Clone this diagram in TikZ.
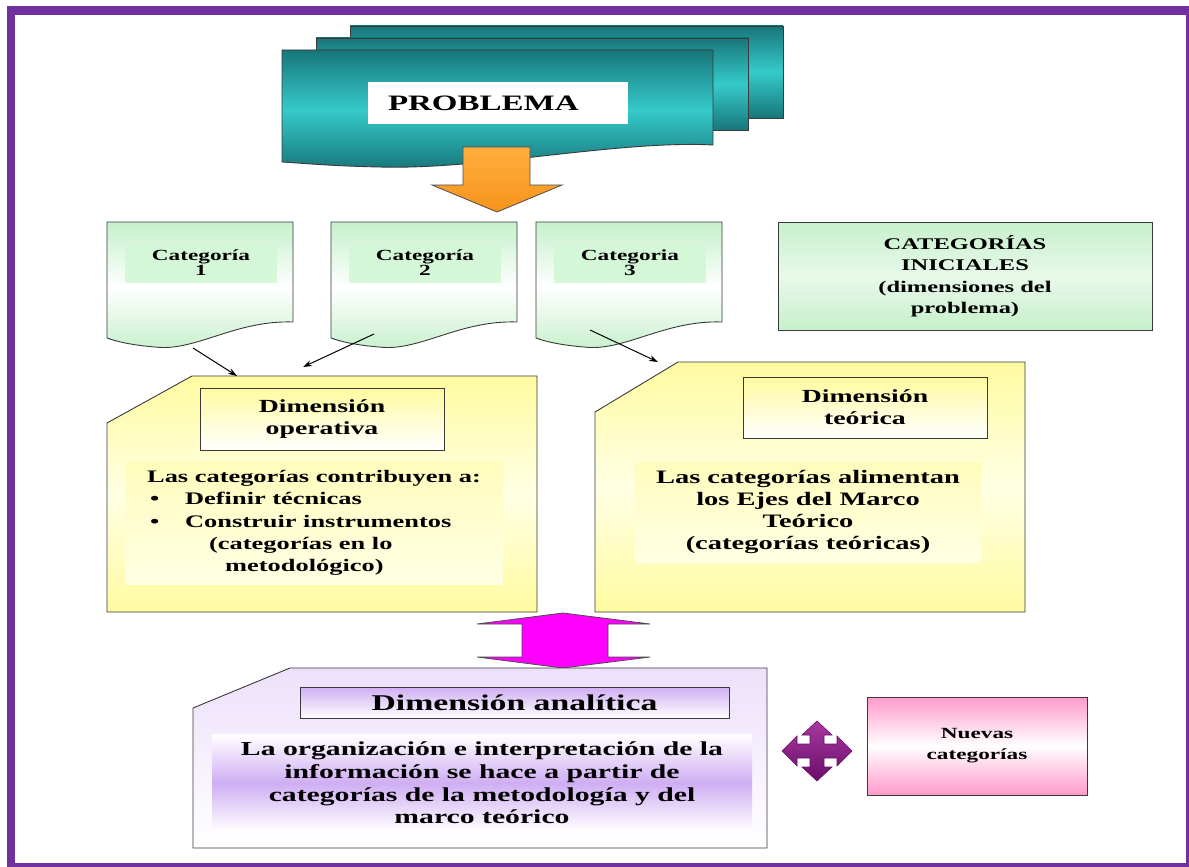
\documentclass[tikz,border=0pt]{standalone}
\usepackage{fontspec}
\setmainfont{Liberation Serif}[FakeStretch=1.5]
\usepackage{tikz}
\usetikzlibrary{arrows.meta}
\definecolor{framepurple}{HTML}{7030A0}
\definecolor{tealdark}{HTML}{17767A}
\definecolor{teallight}{HTML}{36CACA}
\definecolor{arroworange}{HTML}{F7931E}
\definecolor{arroworangelight}{HTML}{FFAE3C}
\definecolor{catgreen}{HTML}{C6F0CB}
\definecolor{catband}{HTML}{D4F7D8}
\definecolor{opyellow}{HTML}{FFFBA0}
\definecolor{opyellowlight}{HTML}{FFFFE4}
\definecolor{anapurple}{HTML}{CFAEF3}
\definecolor{anapurplelight}{HTML}{EDE0FB}
\definecolor{pinkarrow}{HTML}{FF00FF}
\definecolor{crosspurple}{HTML}{6A0E6A}
\definecolor{crosspurplelight}{HTML}{A7399F}
\definecolor{nuevaspink}{HTML}{FF9ACB}
\definecolor{outlinegray}{HTML}{3A3A3A}
\newcommand{\fsz}[2]{\fontsize{#1}{#2}\selectfont}

\begin{document}
\begin{tikzpicture}[x=1pt, y=-1pt, font=\bfseries,
    outline/.style={draw=outlinegray, line width=0.9pt},
    tealdoc/.style={outline, top color=tealdark, bottom color=tealdark, middle color=teallight},
    catdoc/.style={outline, top color=catgreen, bottom color=catgreen, middle color=white},
    catlabel/.style={fill=catband, minimum width=152, minimum height=40, align=center, inner sep=0pt, font=\bfseries\fsz{15.5}{15}},
    dimshape/.style={outline, top color=opyellow, bottom color=opyellow, middle color=opyellowlight},
    dimtitle/.style={outline, top color=opyellow, bottom color=white, minimum width=244, minimum height=62, align=center, inner sep=0pt, font=\bfseries\fsz{18.5}{22}},
    dimbody/.style={top color=opyellow!70, bottom color=opyellowlight, inner sep=0pt},
    thinarrow/.style={-{Stealth[length=9pt,width=6pt]}, line width=1pt, black},
    blockarrow/.style={draw=black!70, line width=0.8pt}
]
    \useasboundingbox (0,0) rectangle (1189,867);

    % Frame
    \fill[framepurple] (7,6) rectangle (1189,867);
    \fill[white] (15,15) rectangle (1186,863);

    % === Problema ===
    \path[tealdoc] (350,26) rectangle (783,118);
    \path[tealdoc] (316,38) rectangle (748,130);
    \path[tealdoc] (282,50) -- (713,50) -- (713,145)
        .. controls (620,140) and (480,170) .. (380,167)
        .. controls (330,166) and (300,163) .. (282,162) -- cycle;
    \node[fill=white, minimum width=260, minimum height=42, inner sep=0pt, font=\bfseries\fsz{22}{24}] (problema) at (498,103) {\makebox[220pt][l]{PROBLEMA}};

    % orange arrow
    \path[blockarrow, top color=arroworangelight, bottom color=arroworange]
        (463,147) -- (530,147) -- (530,185) -- (562,185) -- (497,212) -- (432,185) -- (463,185) -- cycle;

    % === Categorias ===
    \foreach \dx/\lbl/\num/\nm in {0/Categoría/1/catA, 224/Categoría/2/catB, 429/Categoria/3/catC} {
        \path[catdoc, shift={(\dx,0)}] (107,222) -- (293,222) -- (293,322)
            .. controls (235,320) and (195,352) .. (155,347)
            .. controls (130,345) and (115,341) .. (107,338) -- cycle;
        \node[catlabel] (\nm) at (\dx+201,263) {\lbl\\\num};
    }

    \node[outline, top color=catgreen, bottom color=catgreen, middle color=white!60!catgreen,
        minimum width=374, minimum height=108, align=center, font=\bfseries\fsz{16.3}{21.5}] (iniciales) at (965,276)
        {CATEGORÍAS\\INICIALES\\(dimensiones del\\problema)};

    % === Dimension operativa ===
    \path[dimshape] (107,423) -- (192,376) -- (537,376) -- (537,612) -- (107,612) -- cycle;
    \node[dimtitle] (opTitle) at (322,419) {Dimensión\\operativa};
    \node[dimbody, minimum width=378, minimum height=123, align=left, font=\bfseries\fsz{17.6}{22.3}] (opBody) at (314,523)
        {Las categorías contribuyen a:\\
         \makebox[38pt][l]{\hspace*{3pt}\textbullet}Definir técnicas\\
         \makebox[38pt][l]{\hspace*{3pt}\textbullet}Construir instrumentos\\
         \hspace*{62pt}(categorías en lo\\
         \hspace*{78pt}metodológico)};

    % === Dimension teorica ===
    \path[dimshape] (595,412) -- (678,362) -- (1025,362) -- (1025,612) -- (595,612) -- cycle;
    \node[dimtitle, minimum height=61] (teoTitle) at (865,407.5) {Dimensión\\teórica};
    \node[dimbody, minimum width=346, minimum height=100, align=center, font=\bfseries\fsz{19}{21.7}] (teoBody) at (808,512)
        {Las categorías alimentan\\los Ejes del Marco\\Teórico\\(categorías teóricas)};

    % connectors
    \coordinate (catAout) at (193,348);
    \coordinate (catBout) at (374,334);
    \coordinate (catCout) at (590,330);
    \coordinate (opInA) at (237,376);
    \coordinate (opInB) at (303,367);
    \coordinate (teoIn) at (658,362);
    \draw[thinarrow] (catAout) -- (opInA);
    \draw[thinarrow] (catBout) -- (opInB);
    \draw[thinarrow] (catCout) -- (teoIn);

    % pink double arrow
    \path[blockarrow, fill=pinkarrow]
        (563,613) -- (650,624) -- (608,624) -- (608,657) -- (650,657) -- (563,668)
        -- (477,657) -- (522,657) -- (522,624) -- (477,624) -- cycle;

    % === Dimension analitica ===
    \path[outline, top color=anapurplelight, bottom color=white] (193,708) -- (290,668) -- (767,668) -- (767,848) -- (193,848) -- cycle;
    \node[outline, top color=anapurple, bottom color=white, minimum width=429, minimum height=31, inner sep=0pt, font=\bfseries\fsz{22.5}{22}] (anaTitle) at (514.5,702.5) {Dimensión analítica};
    \node[top color=white, bottom color=white, middle color=anapurple, minimum width=540, minimum height=97, inner sep=0pt, align=center, font=\bfseries\fsz{19.8}{22.7}] (anaBody) at (482,783)
        {La organización e interpretación de la\\información se hace a partir de\\categorías de la metodología y del\\marco teórico};

    % four way arrow
    \path[draw=crosspurple, line width=0.6pt, top color=crosspurplelight, bottom color=crosspurple, shift={(817,751)}]
        (0,-30) -- (15,-16) -- (7,-16) -- (7,-7) -- (20,-7) -- (20,-15) -- (35,0) -- (20,15) -- (20,7) -- (7,7)
        -- (7,16) -- (15,16) -- (0,30) -- (-15,16) -- (-7,16) -- (-7,7) -- (-20,7) -- (-20,15) -- (-35,0)
        -- (-20,-15) -- (-20,-7) -- (-7,-7) -- (-7,-16) -- (-15,-16) -- cycle;

    % nuevas categorias
    \node[outline, top color=nuevaspink, bottom color=nuevaspink, middle color=white, minimum width=220, minimum height=98,
        align=center, font=\bfseries\fsz{15.5}{21}] (nuevas) at (977,746) {Nuevas\\categorías};
\end{tikzpicture}
\end{document}
